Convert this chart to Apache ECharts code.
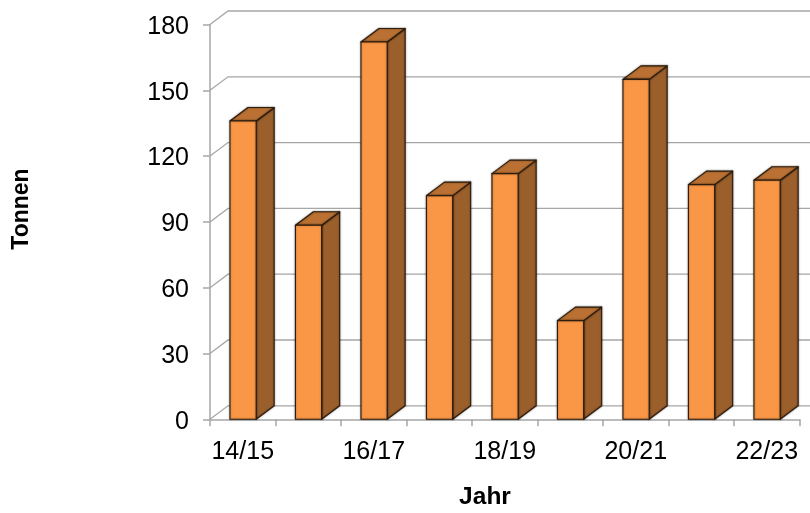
<!DOCTYPE html>
<html>
<head>
<meta charset="utf-8">
<style>html,body{margin:0;padding:0;background:#fff}#c{width:810px;height:513px}</style>
<script src="https://cdn.jsdelivr.net/npm/echarts@6/dist/echarts.min.js"></script>
</head>
<body>
<div id="c"></div>
<script>
const categories = ['14/15','15/16','16/17','17/18','18/19','19/20','20/21','21/22','22/23'];
const tonnen = [136, 88.5, 172, 102, 112, 45, 155, 107, 109];
const yTicks = [0, 30, 60, 90, 120, 150, 180];

const depthX = 18, depthY = 13.5;
const font = '"Liberation Sans", Arial, sans-serif';
const gridColor = '#a6a6a6';

const chart = echarts.init(document.getElementById('c'), null, {renderer: 'canvas'});

function renderWall(params, api) {
  const v = api.value(0);
  const band = api.size([1, 0])[0];
  const a = api.coord([0, v]);
  const b = api.coord([categories.length - 1, v]);
  const x0 = a[0] - band / 2, x1 = b[0] + band / 2, y = a[1];
  return {
    type: 'polyline',
    shape: {points: [[x0, y], [x0 + depthX, y - depthY], [x1 + depthX, y - depthY]]},
    style: {stroke: gridColor, lineWidth: 1.3, fill: null},
    silent: true
  };
}

function renderBar(params, api) {
  const i = api.value(0);
  const top = api.coord([i, api.value(1)]);
  const base = api.coord([i, 0]);
  const w = api.size([1, 0])[0] * 0.4;
  const l = top[0] - w / 2 + 0.3, r = top[0] + w / 2 + 0.3, t = top[1], b = base[1];
  const edge = {stroke: '#2e1c0c', lineWidth: 1.1, lineJoin: 'round'};
  return {
    type: 'group',
    children: [
      {type: 'polygon', shape: {points: [[r, t], [r + depthX, t - depthY], [r + depthX, b - depthY], [r, b]]},
        style: Object.assign({fill: '#9B5F2C', shadowColor: 'rgba(0,0,0,0.45)', shadowBlur: 2}, edge)},
      {type: 'polygon', shape: {points: [[l, t], [l + depthX, t - depthY], [r + depthX, t - depthY], [r, t]]},
        style: Object.assign({fill: '#BA7133', shadowColor: 'rgba(0,0,0,0.45)', shadowBlur: 2}, edge)},
      {type: 'rect', shape: {x: l, y: t, width: w, height: b - t},
        style: Object.assign({fill: '#F99747', shadowColor: 'rgba(0,0,0,0.35)', shadowBlur: 2}, edge)}
    ]
  };
}

chart.setOption({
  animation: false,
  backgroundColor: '#fff',
  grid: {left: 210, right: 10.5, top: 24.5, bottom: 93.7},
  xAxis: {
    type: 'category',
    data: categories,
    boundaryGap: true,
    axisLine: {lineStyle: {color: gridColor, width: 1.5}},
    axisTick: {show: true, alignWithLabel: false, length: 7, lineStyle: {color: gridColor, width: 1.5}, interval: 0},
    axisLabel: {interval: 1, color: '#000', fontFamily: font, fontSize: 25, margin: 20},
    splitLine: {show: false}
  },
  yAxis: {
    type: 'value',
    min: 0, max: 180, interval: 30,
    axisLine: {show: true, lineStyle: {color: gridColor, width: 1.5}},
    axisTick: {show: true, length: 7, lineStyle: {color: gridColor, width: 1.5}},
    axisLabel: {
      margin: 21,
      formatter: '{v|{value}}',
      rich: {v: {color: '#000', fontFamily: font, fontSize: 25, padding: [5, 0, 0, 0]}}
    },
    splitLine: {show: false}
  },
  graphic: [
    {type: 'text', x: 485, y: 497, style: {text: 'Jahr', fill: '#000', font: 'bold 24.5px ' + font, textAlign: 'center', textVerticalAlign: 'middle'}},
    {type: 'text', x: 22, y: 209, rotation: Math.PI / 2, style: {text: 'Tonnen', fill: '#000', font: 'bold 23px ' + font, textAlign: 'center', textVerticalAlign: 'middle'}}
  ],
  series: [
    {type: 'custom', name: 'Wand', renderItem: renderWall, data: yTicks.map(v => [v]), encode: {y: 0}, z: 1, clip: false, silent: true},
    {type: 'custom', name: 'Tonnen', renderItem: renderBar, data: tonnen.map((v, i) => [i, v]), encode: {x: 0, y: 1}, z: 3, clip: false}
  ]
});
</script>
</body>
</html>
